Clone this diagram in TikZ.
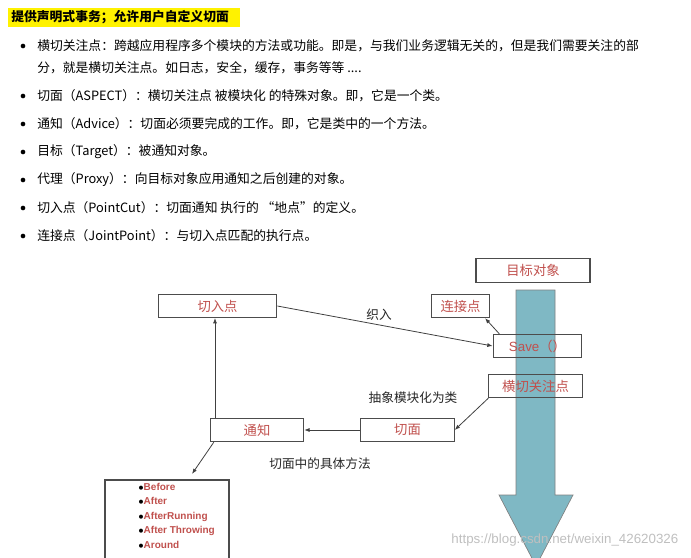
\documentclass[tikz,border=0pt]{standalone}
\usepackage{fontspec}
\setmainfont{Noto Sans CJK SC}
\newfontfamily\arialf{Liberation Sans}
\usetikzlibrary{arrows.meta}
\definecolor{rd}{HTML}{C0504D}
\definecolor{teal}{HTML}{7FB8C4}
\tikzset{x=0.75pt,y=-0.75pt,
 bx/.style={draw=black!70,line width=0.8pt,minimum height=17.5pt,inner sep=0pt,text=rd,font=\fontsize{10}{12}\selectfont},
 ln/.style={draw=black!75,line width=0.6pt,-{Latex[length=4pt,width=3pt]}},
 lb/.style={font=\fontsize{9.5}{11}\selectfont,text=black!85},
 tx/.style={anchor=west,font=\fontsize{9.6}{12}\selectfont,inner sep=0pt},
 dot/.style={circle,fill=black,inner sep=0pt,minimum size=3.5pt}}
\begin{document}
\begin{tikzpicture}
\useasboundingbox (0,0) rectangle (691,557);
% heading
\fill[yellow] (8,8) rectangle (240,27);
\node[tx] (h) at (11,17.5) {\textbf{提供声明式事务；允许用户自定义切面}};
\foreach \y/\t [count=\i] in {
 46/{横切关注点：跨越应用程序多个模块的方法或功能。即是，与我们业务逻辑无关的，但是我们需要关注的部},
 96/{切面（ASPECT）：横切关注点 被模块化 的特殊对象。即，它是一个类。},
 124/{通知（Advice）：切面必须要完成的工作。即，它是类中的一个方法。},
 152/{目标（Target）：被通知对象。},
 180/{代理（Proxy）：向目标对象应用通知之后创建的对象。},
 208/{切入点（PointCut）：切面通知 执行的 “地点”的定义。},
 236/{连接点（JointPoint）：与切入点匹配的执行点。}}{
 \node[dot] (d\i) at (23,\y) {};
 \node[tx] (t\i) at (37,\y) {\t};
}
\node[tx] (t1b) at (37,68) {分，就是横切关注点。如日志，安全，缓存，事务等等 ....};
% big arrow
\fill[teal,draw=black!50,line width=0.5pt] (516,290) -- (555,290) -- (555,495) -- (573,495) -- (536,566) -- (499,495) -- (516,495) -- cycle;
% boxes
\node[bx,minimum width=85.5pt] (tgt) at (533,270.5) {目标对象};
\node[bx,minimum width=89pt] (qrd) at (217.5,306) {切入点};
\node[bx,minimum width=44pt] (ljd) at (460.5,306) {连接点};
\node[bx,minimum width=66.5pt] (save) at (537.5,346) {{\arialf Save}（）};
\node[bx,minimum width=70pt] (hq) at (535.5,386) {横切关注点};
\node[bx,minimum width=70pt] (qm) at (407.5,430) {切面};
\node[bx,minimum width=70pt] (tz) at (257,430) {通知};
\draw[black!70,line width=0.8pt] (105,560) |- (229,480) -- (229,560);
\node[anchor=north west,inner sep=0pt,text=rd,font=\arialf\bfseries\fontsize{7.5}{10.8}\selectfont,align=left] (lt) at (138,483)
 {\textcolor{black}{$\bullet$}Before\\\textcolor{black}{$\bullet$}After\\\textcolor{black}{$\bullet$}AfterRunning\\\textcolor{black}{$\bullet$}After Throwing\\\textcolor{black}{$\bullet$}Around};
% connectors
\draw[ln] (qrd.east) -- (save.west);
\draw[ln] ([xshift=5pt]save.north west) -- ([xshift=-4pt]ljd.south east);
\draw[ln] (hq.south west) -- (qm.east);
\draw[ln] (qm.west) -- (tz.east);
\draw[ln] (215,418) -- (215,318);
\coordinate (le) at (192,474);
\draw[ln] ([xshift=3pt]tz.south west) -- (le);
% labels
\node[lb] (l1) at (379,315) {织入};
\node[lb] (l2) at (413,398) {抽象模块化为类};
\node[lb] (l3) at (320,464) {切面中的具体方法};
\node[anchor=east,text=black!25,font=\arialf\fontsize{10}{12}\selectfont] (wm) at (683,540) {https://blog.csdn.net/weixin\_42620326};
\end{tikzpicture}
\end{document}
